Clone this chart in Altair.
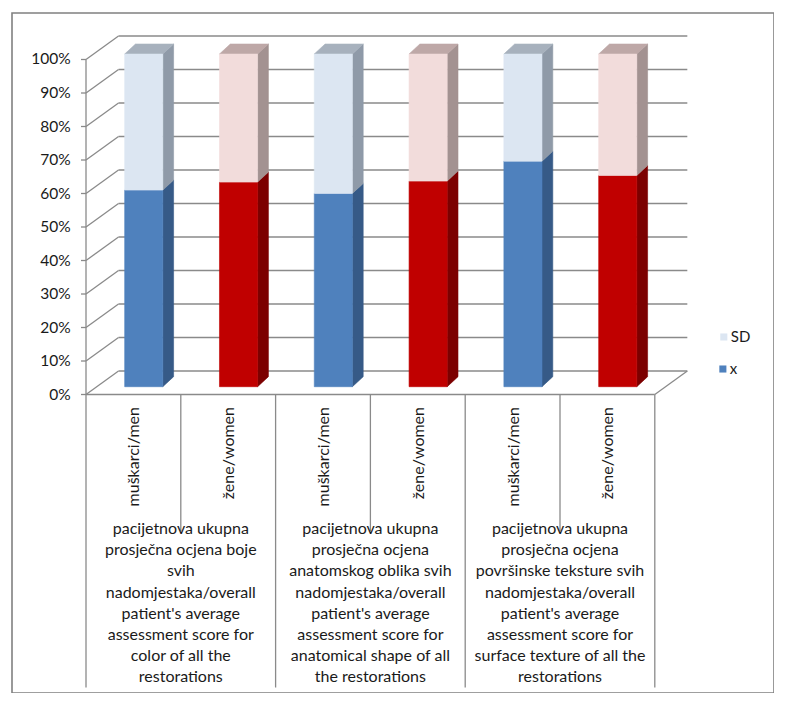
import altair as alt
import pandas as pd

# ---------------- data ----------------
categories = ["muškarci/men", "žene/women", "muškarci/men", "žene/women", "muškarci/men", "žene/women"]
genders = ["men", "women", "men", "women", "men", "women"]
group_labels = [
    ["pacijetnova ukupna", "prosječna ocjena boje", "svih", "nadomjestaka/overall",
     "patient's average", "assessment score for", "color of all the", "restorations"],
    ["pacijetnova ukupna", "prosječna ocjena", "anatomskog oblika svih", "nadomjestaka/overall",
     "patient's average", "assessment score for", "anatomical shape of all", "the restorations"],
    ["pacijetnova ukupna", "prosječna ocjena", "površinske teksture svih", "nadomjestaka/overall",
     "patient's average", "assessment score for", "surface texture of all the", "restorations"],
]
x_share = [59.1, 61.5, 58.1, 61.8, 67.8, 63.5]     # % of stack, series "x"
sd_share = [40.9, 38.5, 41.9, 38.2, 32.2, 36.5]    # % of stack, series "SD"
series = ["SD", "x"]
y_ticks = [0, 10, 20, 30, 40, 50, 60, 70, 80, 90, 100]

# ---------------- style / geometry (3D emulation) ----------------
FRONT = {"men": {"x": "#4F81BD", "SD": "#DCE6F2"}, "women": {"x": "#C00000", "SD": "#F2DCDB"}}
SIDE = {"men": {"x": "#365A87", "SD": "#8F9AA8"}, "women": {"x": "#7C0000", "SD": "#A39291"}}
TOP = {"men": "#A7B1BD", "women": "#BEA8A7"}
LEGEND_COL = {"SD": "#DCE6F2", "x": "#4F81BD"}
GRID = "#8a8a8a"
TXT = "#1a1a1a"
FONT = "Lato"

XMIN, XMAX = -0.7806, 7.2574
YMIN, YMAX = -0.8910, 1.1388
DX, DY = 0.343, 0.0701          # wall depth
BX0, BX1 = 0.408, 0.81          # bar front face within band
BV0, BH = 0.0233, 0.993         # bar base / height
BDX, BDY = 0.114, 0.0299        # bar depth
NB = len(categories)

xs = alt.Scale(domain=[XMIN, XMAX], nice=False, zero=False)
ys = alt.Scale(domain=[YMIN, YMAX], nice=False, zero=False)


def X(f="x", **kw):
    return alt.X(f + ":Q", scale=xs, axis=None, **kw)


def Y(f="y", **kw):
    return alt.Y(f + ":Q", scale=ys, axis=None, **kw)


# ---- wall / axis lines ----
segs = []
for t in y_ticks:
    v = t / 100
    segs.append(dict(x=DX, y=v + DY, x2=NB + DX, y2=v + DY))   # back wall grid
    segs.append(dict(x=0, y=v, x2=DX, y2=v + DY))              # left wall diagonal
    segs.append(dict(x=-0.0527, y=v, x2=0, y2=v))              # tick
segs.append(dict(x=0, y=0, x2=0, y2=1))                        # front axis
segs.append(dict(x=0, y=0, x2=NB, y2=0))                       # floor front
segs.append(dict(x=NB, y=0, x2=NB + DX, y2=DY))                # floor right
for k in range(0, NB + 1, 2):
    segs.append(dict(x=k, y=0, x2=k, y2=-0.8746))              # group separators
for k in range(1, NB, 2):
    segs.append(dict(x=k, y=0, x2=k, y2=-0.4075))              # inner separators
seg_df = pd.DataFrame(segs)

lines = alt.Chart(seg_df).mark_rule(color=GRID, strokeWidth=1.3).encode(
    x=X("x"), y=Y("y"), x2="x2:Q", y2="y2:Q")

# ---- bars ----
fronts, sides, tops = [], [], []
for i in range(NB):
    g = genders[i]
    xl, xr = i + BX0, i + BX1
    vx = BV0 + x_share[i] / 100 * BH
    vt = vx + sd_share[i] / 100 * BH
    fronts.append(dict(x=xl, x2=xr, y=BV0, y2=vx, col=FRONT[g]["x"]))
    fronts.append(dict(x=xl, x2=xr, y=vx, y2=vt, col=FRONT[g]["SD"]))
    for name, a, b in (("x", BV0, vx), ("SD", vx, vt)):
        pid = f"s{i}{name}"
        c = SIDE[g][name]
        sides.append(dict(p=pid, x=xr, y=a, y2=b, col=c))
        sides.append(dict(p=pid, x=xr + BDX, y=a + BDY, y2=b + BDY, col=c))
    pid = f"t{i}"
    tops.append(dict(p=pid, y=vt, x=xl, x2=xr, col=TOP[g]))
    tops.append(dict(p=pid, y=vt + BDY, x=xl + BDX, x2=xr + BDX, col=TOP[g]))

side_layer = alt.Chart(pd.DataFrame(sides)).mark_area(strokeWidth=0.6).encode(
    x=X("x"), y=Y("y", stack=None), y2="y2:Q", detail="p:N",
    fill=alt.Fill("col:N", scale=None), stroke=alt.Stroke("col:N", scale=None))

top_layer = alt.Chart(pd.DataFrame(tops)).mark_area(orient="horizontal", strokeWidth=0.6).encode(
    y=Y("y"), x=X("x", stack=None), x2="x2:Q", detail="p:N",
    fill=alt.Fill("col:N", scale=None), stroke=alt.Stroke("col:N", scale=None))

front_layer = alt.Chart(pd.DataFrame(fronts)).mark_rect(strokeWidth=0.6).encode(
    x=X("x"), x2="x2:Q", y=Y("y"), y2="y2:Q",
    fill=alt.Fill("col:N", scale=None), stroke=alt.Stroke("col:N", scale=None))

# ---- y tick labels ----
tick_df = pd.DataFrame({"v": [t / 100 for t in y_ticks], "lab": [f"{t}%" for t in y_ticks]})
tick_labels = alt.Chart(tick_df).mark_text(
    align="right", baseline="middle", font=FONT, fontSize=15.5, color=TXT, dx=-3
).encode(x=alt.X("xx:Q", scale=xs, axis=None), y=Y("v"), text="lab:N").transform_calculate(xx="-0.13")

# ---- category labels (rotated) ----
cat_df = pd.DataFrame({"x": [i + 0.5 for i in range(NB)], "lab": categories})
cat_labels = alt.Chart(cat_df).mark_text(
    angle=270, align="right", baseline="middle", font=FONT, fontSize=16, color=TXT, dy=1
).encode(x=X("x"), y=alt.Y("yy:Q", scale=ys, axis=None), text="lab:N").transform_calculate(yy="-0.0373")

# ---- group labels ----
grp_df = pd.DataFrame({"x": [1, 3, 5], "lab": ["\n".join(l) for l in group_labels]})
grp_labels = alt.Chart(grp_df).mark_text(
    align="center", baseline="middle", lineBreak="\n", lineHeight=21.2,
    font=FONT, fontSize=16, color=TXT
).encode(x=X("x"), y=alt.Y("yy:Q", scale=ys, axis=None), text="lab:N").transform_calculate(yy="-0.4015")

# ---- legend ----
leg_df = pd.DataFrame({"s": series, "x": [6.728, 6.718], "y": [0.1717, 0.0761],
                       "col": [LEGEND_COL[s] for s in series]})
leg_sq = alt.Chart(leg_df).mark_square(size=50, opacity=1).encode(
    x=X("x"), y=Y("y"), fill=alt.Fill("col:N", scale=None))
leg_txt = alt.Chart(leg_df).mark_text(
    align="left", baseline="middle", font=FONT, fontSize=15, color=TXT, dx=7
).encode(x=X("x"), y=Y("y"), text="s:N")

chart = alt.layer(
    lines, side_layer, top_layer, front_layer, tick_labels, cat_labels, grp_labels, leg_sq, leg_txt
).properties(
    width=762, height=680, autosize=alt.AutoSizeParams(type="none"),
    padding={"left": 4, "top": 5, "right": 0, "bottom": 0}, background="white"
).configure_view(stroke="#808080", strokeWidth=1.6)

chart.save("out.html", embed_options={"renderer": "svg", "actions": False})
